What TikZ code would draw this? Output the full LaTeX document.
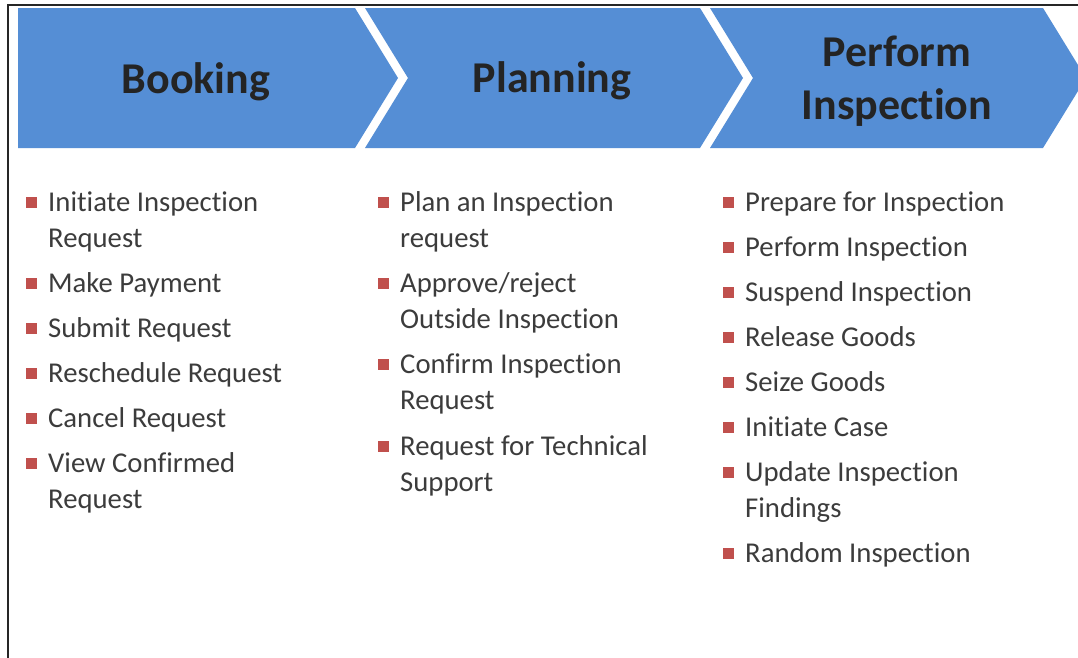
\documentclass[tikz,border=0pt]{standalone}
\usepackage{fontspec}
\setmainfont{Carlito}[Ligatures=NoCommon]
\definecolor{chev}{RGB}{85,142,213}
\definecolor{bul}{RGB}{192,80,77}
\definecolor{txt}{RGB}{60,60,60}
\definecolor{ttl}{RGB}{36,36,36}
% single-line item: name, x, baseline, text
\newcommand\bitem[4]{%
  \node[bulletbox] (#1b) at (#2-16.5,#3-8.5) {};
  \node[itemtext] (#1) at (#2,#3) {#4};}
% two-line item: name, x, first baseline, text (anchor = last baseline)
\newcommand\bitemtwo[4]{%
  \node[bulletbox] (#1b) at (#2-16.5,#3-8.5) {};
  \node[itemtext] (#1) at (#2,#3+36) {#4};}
\begin{document}
\begin{tikzpicture}[x=1pt,y=-1pt,
  chevron/.style={fill=chev,draw=none},
  title/.style={font=\fontsize{44}{53}\selectfont\bfseries,text=ttl,align=center,inner sep=0pt,anchor=base},
  itemtext/.style={font=\fontsize{28.7}{36}\selectfont,text=txt,align=left,inner sep=0pt,anchor=base west},
  bulletbox/.style={fill=bul,draw=none,minimum size=11.5pt,inner sep=0pt}]
\useasboundingbox (0,0) rectangle (1078,657);
\fill[white] (0,0) rectangle (1078,657);
\begin{scope}
\clip (0,0) rectangle (1078,657);
\draw[line width=1.3pt,black!85] (8,660) -- (8,5) -- (1080,5);
\fill[chevron] (18,8) -- (355,8) -- (398,78) -- (355,148) -- (18,148) -- cycle;
\fill[chevron] (365,8) -- (700,8) -- (743,78) -- (700,148) -- (365,148) -- (408,78) -- cycle;
\fill[chevron] (710,8) -- (1043,8) -- (1086,78) -- (1043,148) -- (710,148) -- (753,78) -- cycle;
\end{scope}
\node[title] (booking) at (196,93) {Booking};
\node[title] (planning) at (552,92) {Planning};
\node[title] (perform) at (897,119) {Perform\\Inspection};
% column 1
\bitemtwo{a1}{48}{211}{Initiate Inspection\\Request}
\bitem{a2}{48}{292}{Make Payment}
\bitem{a3}{48}{337}{Submit Request}
\bitem{a4}{48}{382}{Reschedule Request}
\bitem{a5}{48}{427}{Cancel Request}
\bitemtwo{a6}{48}{472}{View Confirmed\\Request}
% column 2
\bitemtwo{b1}{400}{211}{Plan an Inspection\\request}
\bitemtwo{b2}{400}{292}{Approve/reject\\Outside Inspection}
\bitemtwo{b3}{400}{373}{Confirm Inspection\\Request}
\bitemtwo{b4}{400}{455}{Request for Technical\\Support}
% column 3
\bitem{c1}{745}{211}{Prepare for Inspection}
\bitem{c2}{745}{256}{Perform Inspection}
\bitem{c3}{745}{301}{Suspend Inspection}
\bitem{c4}{745}{346}{Release Goods}
\bitem{c5}{745}{391}{Seize Goods}
\bitem{c6}{745}{436}{Initiate Case}
\bitemtwo{c7}{745}{481}{Update Inspection\\Findings}
\bitem{c8}{745}{562}{Random Inspection}
\end{tikzpicture}
\end{document}
